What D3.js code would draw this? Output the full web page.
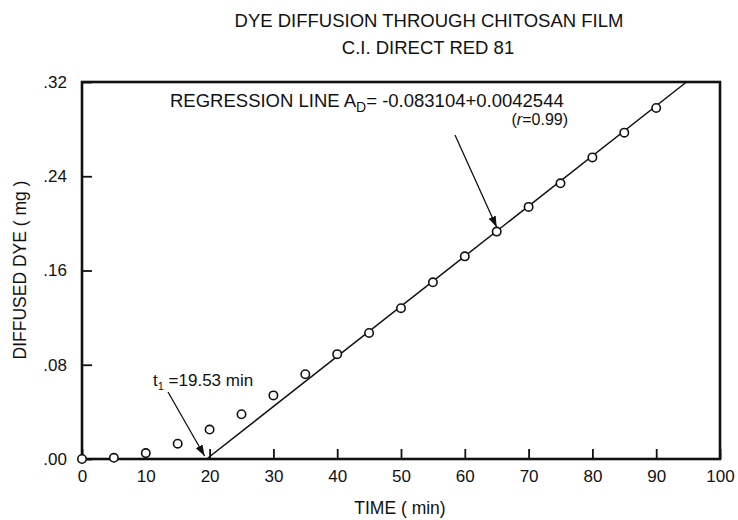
<!DOCTYPE html>
<html>
<head>
<meta charset="utf-8">
<script src="https://cdn.jsdelivr.net/npm/d3@7"></script>
<style>
  body { margin: 0; background: #fff; }
  text { font-family: "Liberation Sans", Arial, sans-serif; fill: #111; }
</style>
</head>
<body>
<svg class="chart" width="738" height="520"></svg>
<script>
// measured points (time in min, diffused dye in mg)
const times = [0, 5, 10, 15, 20, 25, 30, 35, 40, 45, 50, 55, 60, 65, 70, 75, 80, 85, 90];
const dye = [0.000, 0.001, 0.005, 0.013, 0.025, 0.038, 0.054, 0.072, 0.089, 0.107, 0.128, 0.150, 0.172, 0.193, 0.214, 0.234, 0.256, 0.277, 0.298];
const xTicks = [0, 10, 20, 30, 40, 50, 60, 70, 80, 90, 100];
const yTicks = [0, 0.08, 0.16, 0.24, 0.32];
const intercept = -0.083104;
const slope = 0.0042544;
const lagTime = 19.53;

const svg = d3.select('.chart');
const plotL = 82, plotR = 720, plotT = 82, plotB = 459;

const x = d3.scaleLinear().domain([0, 100]).range([plotL, plotR]);
const y = d3.scaleLinear().domain([0, 0.32]).range([plotB, plotT]);

// frame
svg.append('rect')
  .attr('x', plotL).attr('y', plotT)
  .attr('width', plotR - plotL).attr('height', plotB - plotT)
  .attr('fill', 'none').attr('stroke', '#111').attr('stroke-width', 2.6);

// x axis, ticks pointing inward
const xAxis = svg.append('g')
  .attr('transform', `translate(0, ${plotB})`)
  .call(d3.axisBottom(x).tickValues(xTicks).tickSize(-10).tickPadding(20).tickFormat(d3.format('d')));
xAxis.select('.domain').remove();
xAxis.selectAll('line').attr('stroke', '#111').attr('stroke-width', 1.8);
xAxis.selectAll('text').attr('font-size', 17).attr('dy', '0.2em');

const yAxis = svg.append('g')
  .attr('transform', `translate(${plotL}, 0)`)
  .call(d3.axisLeft(y).tickValues(yTicks).tickSize(-10).tickPadding(15)
    .tickFormat(d => d3.format('.2f')(d).replace(/^0/, '')));
yAxis.select('.domain').remove();
yAxis.selectAll('line').attr('stroke', '#111').attr('stroke-width', 1.8);
yAxis.selectAll('text').attr('font-size', 17);

// regression line from lag time to top of frame
const tEnd = (0.32 - intercept) / slope;
svg.append('line')
  .attr('x1', x(lagTime)).attr('y1', y(0))
  .attr('x2', x(tEnd)).attr('y2', y(0.32))
  .attr('stroke', '#111').attr('stroke-width', 1.5);

// points
svg.selectAll('circle.pt')
  .data(times.map((t, i) => ({t, v: dye[i]})))
  .join('circle')
  .attr('class', 'pt')
  .attr('cx', d => x(d.t)).attr('cy', d => y(d.v))
  .attr('r', 4.2)
  .attr('fill', '#fff').attr('stroke', '#111').attr('stroke-width', 1.6);

// arrow marker
svg.append('defs').append('marker')
  .attr('id', 'arr').attr('viewBox', '0 0 10 10')
  .attr('refX', 10).attr('refY', 5)
  .attr('markerWidth', 11).attr('markerHeight', 11)
  .attr('markerUnits', 'userSpaceOnUse')
  .attr('orient', 'auto')
  .append('path').attr('d', 'M0,1.5 L10,5 L0,8.5 Z').attr('fill', '#111');

svg.append('line')
  .attr('x1', 455).attr('y1', 135)
  .attr('x2', x(65)).attr('y2', y(0.19) - 8)
  .attr('stroke', '#111').attr('stroke-width', 1.3)
  .attr('marker-end', 'url(#arr)');

svg.append('line')
  .attr('x1', 168).attr('y1', 392)
  .attr('x2', x(lagTime) - 2).attr('y2', y(0) - 3)
  .attr('stroke', '#111').attr('stroke-width', 1.3)
  .attr('marker-end', 'url(#arr)');

// titles
svg.append('text').attr('x', 429).attr('y', 27).attr('text-anchor', 'middle')
  .attr('font-size', 18.5).text('DYE DIFFUSION THROUGH  CHITOSAN FILM');
svg.append('text').attr('x', 428).attr('y', 54).attr('text-anchor', 'middle')
  .attr('font-size', 18.5).text('C.I. DIRECT RED 81');

// regression label
const reg = svg.append('text').attr('x', 170).attr('y', 107).attr('font-size', 18.5);
reg.append('tspan').text('REGRESSION LINE  A');
reg.append('tspan').attr('font-size', 14).attr('dy', 5).text('D');
reg.append('tspan').attr('dy', -5).text('= -0.083104+0.0042544');

const rl = svg.append('text').attr('x', 568).attr('y', 125).attr('text-anchor', 'end').attr('font-size', 16);
rl.append('tspan').text('(');
rl.append('tspan').attr('font-style', 'italic').text('r');
rl.append('tspan').text('=0.99)');

// lag time label
const lt = svg.append('text').attr('x', 153).attr('y', 386).attr('font-size', 17);
lt.append('tspan').text('t');
lt.append('tspan').attr('font-size', 11).attr('dy', 4).text('1');
lt.append('tspan').attr('dy', -4).text(' =19.53 min');

// axis titles
svg.append('text').attr('x', 400).attr('y', 514).attr('text-anchor', 'middle')
  .attr('font-size', 17.5).text('TIME ( min)');
svg.append('text')
  .attr('transform', 'translate(26, 270) rotate(-90)')
  .attr('text-anchor', 'middle')
  .attr('font-size', 17.5).text('DIFFUSED DYE  ( mg )');
</script>
</body>
</html>
